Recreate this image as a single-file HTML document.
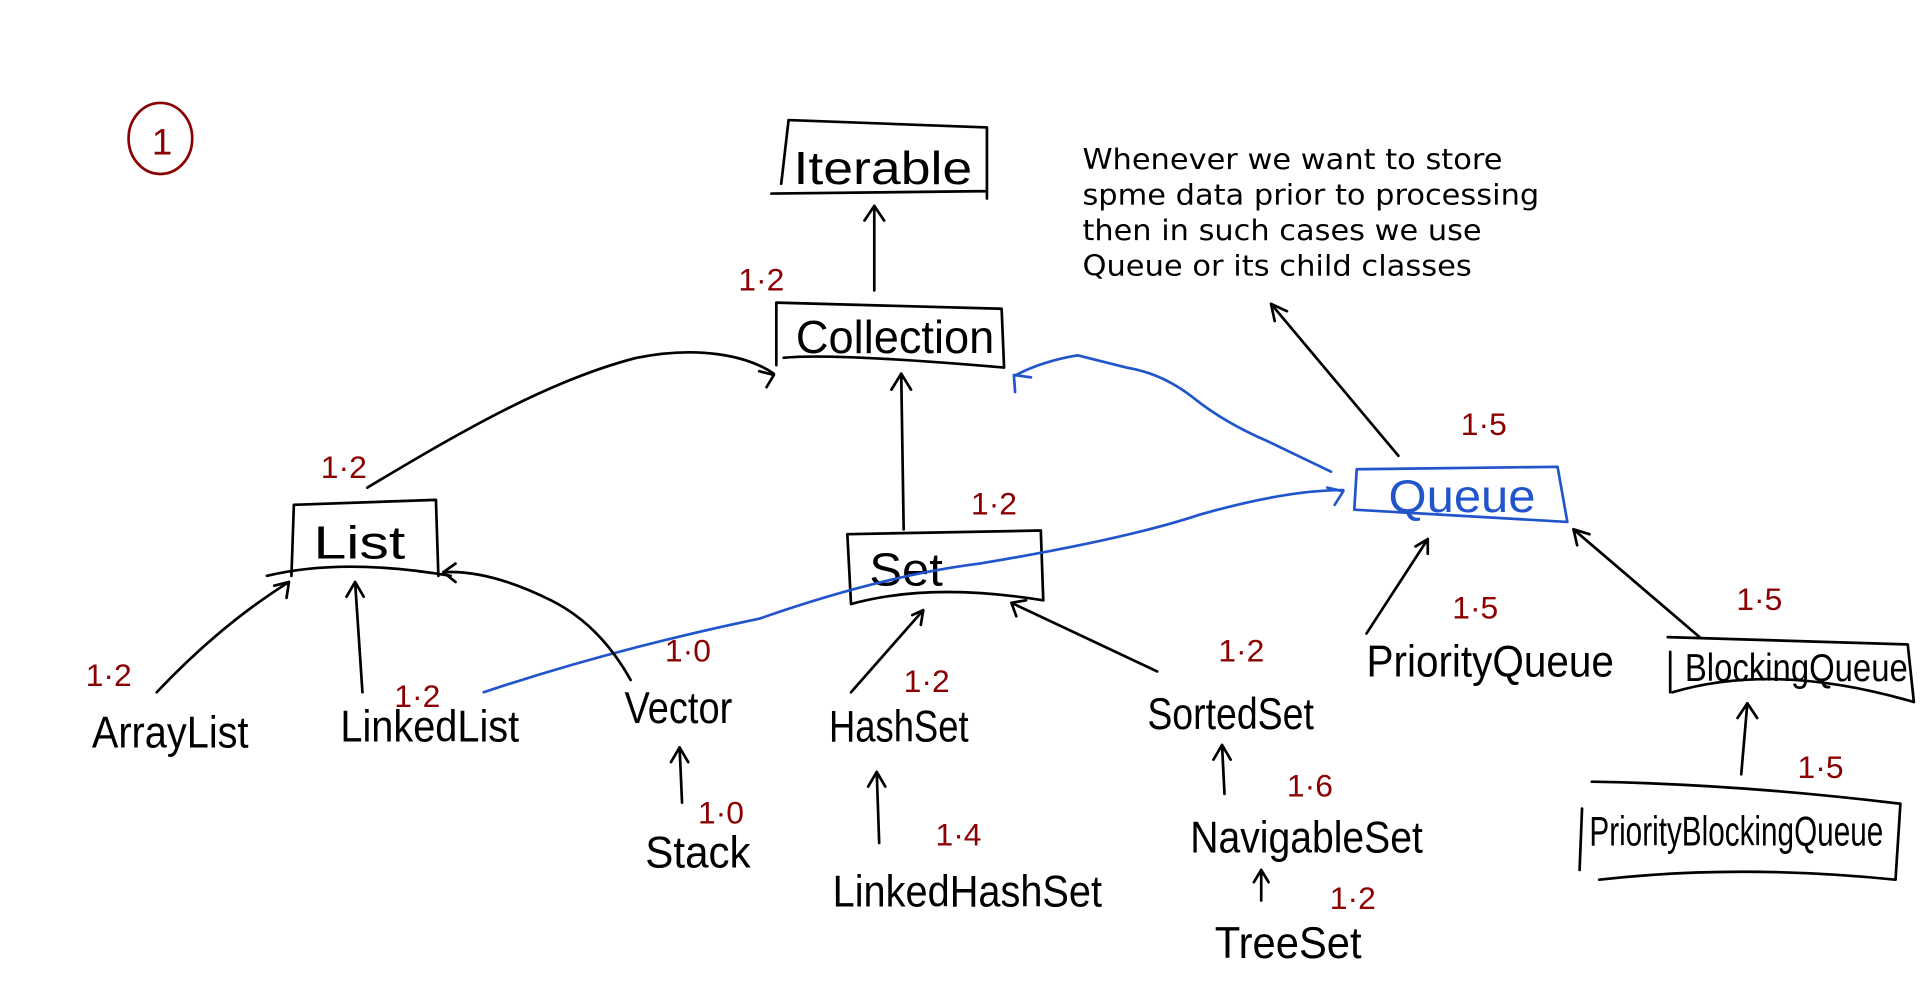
<!DOCTYPE html>
<html><head><meta charset="utf-8"><style>
html,body{margin:0;padding:0;background:#fff;width:1920px;height:1001px;overflow:hidden}
svg{display:block}
.h{font-family:"Liberation Sans Narrow","Liberation Sans",sans-serif;fill:#000;font-weight:300}
.r{font-family:"Liberation Sans",sans-serif;fill:#8b0000;font-size:26px}
.b{fill:none;stroke:#000;stroke-width:2.2;stroke-linecap:round;stroke-linejoin:round}
.bl{fill:none;stroke:#2255cc;stroke-width:2.2;stroke-linecap:round;stroke-linejoin:round}
.t{font-family:"DejaVu Sans",sans-serif;font-size:23px;fill:#000}
</style></head><body>
<svg width="1920" height="1001" viewBox="0 0 1568 817" preserveAspectRatio="none">
<ellipse cx="131" cy="113" rx="26" ry="29" fill="none" stroke="#8b0000" stroke-width="2.2"/>
<text x="124" y="126" class="r" style="font-size:30px">1</text>

<!-- Iterable -->
<path class="b" d="M644 98 L806 104 L806 162 M630 158 L806 156 M644 98 L638 150"/>
<text x="648" y="150" class="h" font-size="38" textLength="146" lengthAdjust="spacingAndGlyphs">Iterable</text>
<path class="b" d="M714 237 L714 168 M706 180 L714 168 L722 180"/>
<text x="603" y="237" class="r">1·2</text>

<!-- Collection -->
<path class="b" d="M634 247 L818 252 L820 300 M634 247 L634 298 M640 292 Q680 288 820 300"/>
<text x="650" y="288" class="h" font-size="38" textLength="162" lengthAdjust="spacingAndGlyphs">Collection</text>

<!-- text -->
<text x="884" y="138" class="t" textLength="343" lengthAdjust="spacingAndGlyphs">Whenever we want to store</text>
<text x="884" y="167" class="t" textLength="373" lengthAdjust="spacingAndGlyphs">spme data prior to processing</text>
<text x="884" y="196" class="t" textLength="326" lengthAdjust="spacingAndGlyphs">then in such cases we use</text>
<text x="884" y="225" class="t" textLength="318" lengthAdjust="spacingAndGlyphs">Queue or its child classes</text>
<path class="b" d="M1142 372 L1038 248 M1041 262 L1038 248 L1051 254"/>

<!-- arrows to collection -->
<path class="b" d="M300 398 C380 350 450 310 520 292 C570 282 610 290 632 305 M620 303 L632 306 L626 316"/>
<path class="b" d="M738 432 L736 305 M728 318 L736 305 L744 318"/>
<path class="bl" d="M1087 385 L1035 360 Q1000 345 975 325 Q950 305 920 300 L880 290 Q850 295 828 307 M829 320 L828 306 L842 308"/>

<!-- List -->
<text x="262" y="390" class="r">1·2</text>
<path class="b" d="M240 412 L356 408 L358 470 M240 412 L238 470 M218 470 Q280 455 368 470"/>
<text x="256" y="456" class="h" font-size="38" textLength="75" lengthAdjust="spacingAndGlyphs">List</text>

<!-- Set -->
<text x="793" y="420" class="r">1·2</text>
<path class="b" d="M692 436 L850 433 L852 490 M692 436 L695 493 M695 493 Q760 475 852 490"/>
<text x="710" y="478" class="h" font-size="38" textLength="60" lengthAdjust="spacingAndGlyphs">Set</text>

<!-- Queue -->
<text x="1193" y="355" class="r">1·5</text>
<path class="bl" d="M1108 383 L1272 381 L1280 426 M1108 383 L1106 416 M1106 416 L1280 426"/>
<text x="1134" y="418" class="h" font-size="38" style="fill:#2255cc" textLength="120" lengthAdjust="spacingAndGlyphs">Queue</text>

<!-- blue LinkedList -> Queue -->
<path class="bl" d="M395 565 Q500 530 620 505 Q720 470 800 460 Q920 440 980 420 Q1050 400 1097 400 M1084 398 L1097 401 L1090 412"/>

<!-- children of List -->
<text x="70" y="560" class="r">1·2</text>
<text x="75" y="610" class="h" font-size="36" textLength="128" lengthAdjust="spacingAndGlyphs">ArrayList</text>
<path class="b" d="M128 565 Q180 510 236 475 M224 478 L236 475 L234 488"/>
<text x="322" y="577" class="r">1·2</text>
<text x="278" y="605" class="h" font-size="36" textLength="146" lengthAdjust="spacingAndGlyphs">LinkedList</text>
<path class="b" d="M296 565 L290 475 M283 487 L290 475 L297 487"/>
<text x="543" y="540" class="r">1·0</text>
<text x="510" y="590" class="h" font-size="36" textLength="88" lengthAdjust="spacingAndGlyphs">Vector</text>
<path class="b" d="M515 555 Q490 510 450 490 Q400 465 362 467 M372 460 L362 467 L372 475"/>
<text x="570" y="672" class="r">1·0</text>
<text x="527" y="708" class="h" font-size="36" textLength="86" lengthAdjust="spacingAndGlyphs">Stack</text>
<path class="b" d="M557 655 L555 610 M548 622 L555 610 L562 622"/>

<!-- children of Set -->
<text x="738" y="565" class="r">1·2</text>
<text x="677" y="605" class="h" font-size="36" textLength="114" lengthAdjust="spacingAndGlyphs">HashSet</text>
<path class="b" d="M695 565 L754 498 M745 502 L754 498 L752 510"/>
<text x="764" y="690" class="r">1·4</text>
<text x="680" y="740" class="h" font-size="36" textLength="220" lengthAdjust="spacingAndGlyphs">LinkedHashSet</text>
<path class="b" d="M718 688 L716 630 M709 642 L716 630 L723 642"/>
<text x="995" y="540" class="r">1·2</text>
<text x="937" y="595" class="h" font-size="36" textLength="136" lengthAdjust="spacingAndGlyphs">SortedSet</text>
<path class="b" d="M945 548 L826 492 M830 503 L826 492 L838 490"/>
<text x="1051" y="650" class="r">1·6</text>
<text x="972" y="696" class="h" font-size="36" textLength="190" lengthAdjust="spacingAndGlyphs">NavigableSet</text>
<path class="b" d="M1000 648 L998 608 M991 620 L998 608 L1005 620"/>
<text x="1086" y="742" class="r">1·2</text>
<text x="992" y="782" class="h" font-size="36" textLength="120" lengthAdjust="spacingAndGlyphs">TreeSet</text>
<path class="b" d="M1030 735 L1030 710 M1024 720 L1030 710 L1036 720"/>

<!-- children of Queue -->
<text x="1186" y="505" class="r">1·5</text>
<text x="1116" y="552" class="h" font-size="36" textLength="202" lengthAdjust="spacingAndGlyphs">PriorityQueue</text>
<path class="b" d="M1116 517 L1166 440 M1156 446 L1166 440 L1166 452"/>
<text x="1418" y="498" class="r">1·5</text>
<path class="b" d="M1362 520 L1558 526 L1563 573 M1364 532 L1364 565 M1366 565 Q1450 540 1563 573"/>
<text x="1376" y="556" class="h" font-size="32" textLength="182" lengthAdjust="spacingAndGlyphs">BlockingQueue</text>
<path class="b" d="M1388 520 L1285 432 M1288 445 L1285 432 L1298 436"/>
<text x="1468" y="635" class="r">1·5</text>
<path class="b" d="M1300 638 Q1420 640 1552 656 L1548 718 M1292 660 L1290 710 M1306 718 Q1420 705 1548 718"/>
<text x="1298" y="690" class="h" font-size="34" textLength="240" lengthAdjust="spacingAndGlyphs">PriorityBlockingQueue</text>
<path class="b" d="M1422 632 L1427 574 M1419 586 L1427 574 L1435 586"/>
</svg>
</body></html>
